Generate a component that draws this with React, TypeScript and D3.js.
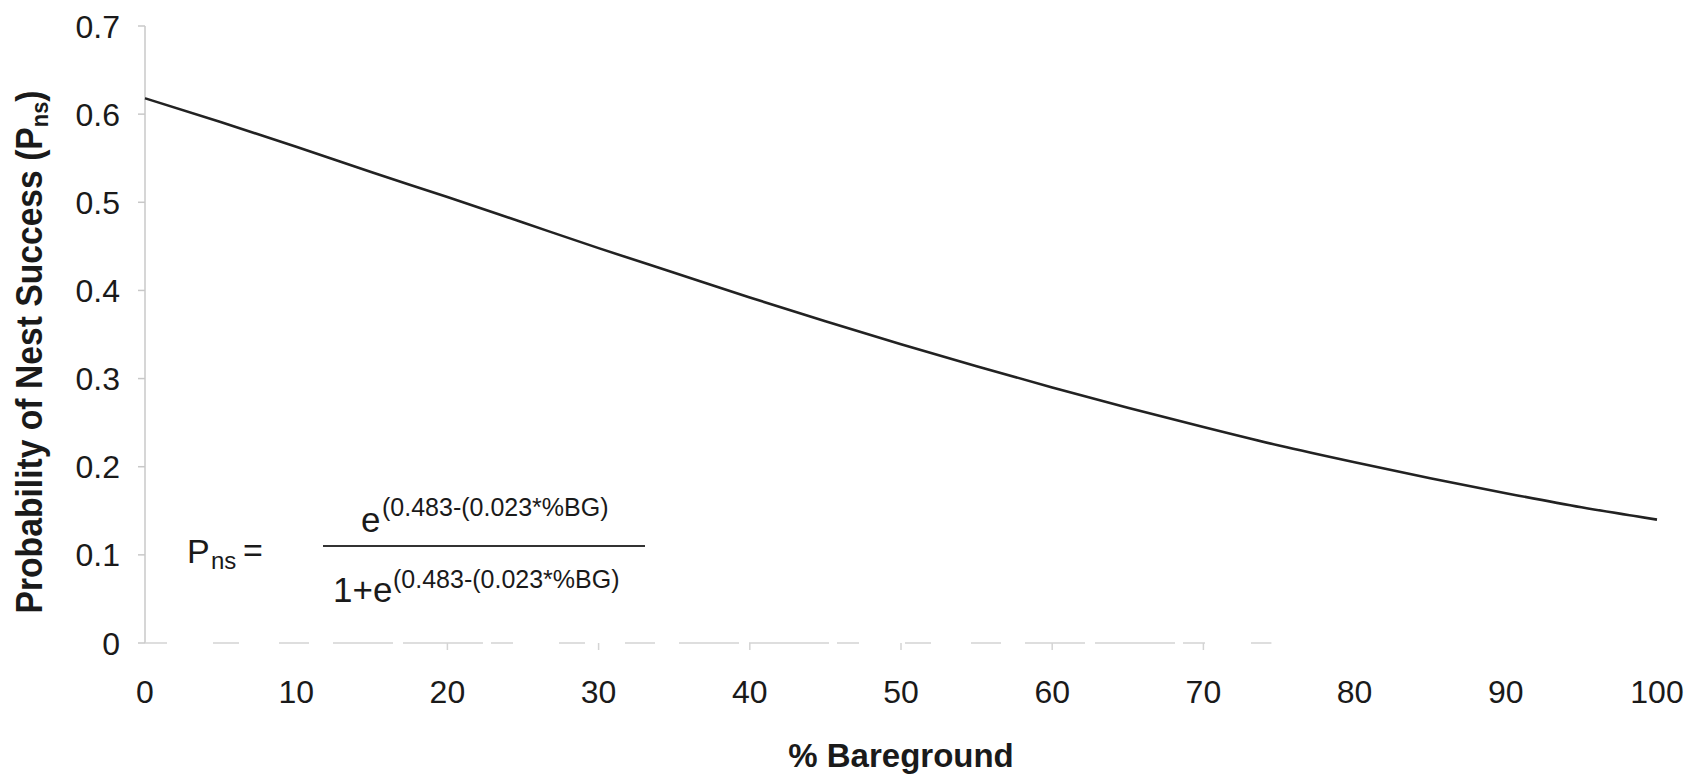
import React from "react";
import * as d3 from "d3";

const bareground = [0, 5, 10, 15, 20, 25, 30, 35, 40, 45, 50, 55, 60, 65, 70, 75, 80, 85, 90, 95, 100];
const pNestSuccess = [0.618, 0.591, 0.563, 0.534, 0.506, 0.477, 0.448, 0.420, 0.392, 0.365, 0.339, 0.314, 0.290, 0.267, 0.245, 0.224, 0.205, 0.187, 0.170, 0.154, 0.140];
const xTicks = [0, 10, 20, 30, 40, 50, 60, 70, 80, 90, 100];
const yTicks = [0, 0.1, 0.2, 0.3, 0.4, 0.5, 0.6, 0.7];
const yTickLabels = ["0", "0.1", "0.2", "0.3", "0.4", "0.5", "0.6", "0.7"];
const xTitle = "% Bareground";
const yTitle = "Probability of Nest Success (P";
const yTitleSub = "ns";
const formulaExp = "(0.483-(0.023*%BG)";

const W = 1700;
const H = 780;
const FONT = "'Liberation Sans', Arial, Helvetica, sans-serif";
const INK = "#1a1a1a";

export default function App() {
  const x = d3.scaleLinear().domain([0, 100]).range([145, 1657]);
  const y = d3.scaleLinear().domain([0, 0.7]).range([643, 26]);
  const pts = bareground.map((b, i) => [b, pNestSuccess[i]] as [number, number]);
  const line = d3
    .line<[number, number]>()
    .x((d) => x(d[0]))
    .y((d) => y(d[1]))
    .curve(d3.curveMonotoneX);

  return (
    <div style={{ position: "absolute", left: 0, top: 0 }}>
      <svg width={W} height={H} style={{ display: "block", background: "#fff" }} fontFamily={FONT}>
        {/* y axis */}
        <line x1={x(0)} x2={x(0)} y1={y(0.7)} y2={y(0)} stroke="#c8c8c8" strokeWidth={1.5} />
        {yTicks.map((t) => (
          <line key={"yt" + t} x1={x(0) - 7} x2={x(0)} y1={y(t)} y2={y(t)} stroke="#c8c8c8" strokeWidth={1.5} />
        ))}
        {yTicks.map((t, i) => (
          <text key={"yl" + t} x={120} y={y(t)} dy="0.36em" textAnchor="end" fontSize={32} fill={INK}>
            {yTickLabels[i]}
          </text>
        ))}
        {/* x axis (faint, partially visible) */}
        <line
          x1={x(0)}
          x2={x(74.5)}
          y1={y(0)}
          y2={y(0)}
          stroke="#d4d4d4"
          strokeWidth={1.5}
          strokeDasharray="22 46 26 40 30 24 60 10 80 8"
        />
        {xTicks.filter((t) => t >= 20 && t <= 70).map((t) => (
          <line key={"xt" + t} x1={x(t)} x2={x(t)} y1={y(0)} y2={y(0) + 7} stroke="#d4d4d4" strokeWidth={1.5} />
        ))}
        {xTicks.map((t) => (
          <text key={"xl" + t} x={x(t)} y={703} textAnchor="middle" fontSize={32} fill={INK}>
            {t}
          </text>
        ))}
        {/* curve */}
        <path d={line(pts) || ""} fill="none" stroke="#222" strokeWidth={2.6} />
        {/* titles */}
        <text x={(x(0) + x(100)) / 2} y={767} textAnchor="middle" fontSize={33} fontWeight="bold" fill={INK}>
          {xTitle}
        </text>
        <text
          transform={`translate(42, 352) rotate(-90) scale(0.91, 1)`}
          textAnchor="middle"
          fontSize={37}
          fontWeight="bold"
          fill={INK}
        >
          {yTitle}
          <tspan fontSize={24} dy={6}>{yTitleSub}</tspan>
          <tspan dy={-6}>)</tspan>
        </text>
        {/* formula */}
        <text x={187} y={563} fontSize={34} fill={INK}>P</text>
        <text x={211} y={569} fontSize={24} fill={INK}>ns</text>
        <text x={243} y={562} fontSize={34} fill={INK}>=</text>
        <line x1={323} x2={645} y1={546} y2={546} stroke="#333" strokeWidth={2} />
        <text x={361} y={532} fontSize={35} fill={INK}>e</text>
        <text x={382} y={516} fontSize={25} fill={INK}>{formulaExp}</text>
        <text x={333} y={602} fontSize={35} fill={INK}>1+e</text>
        <text x={393} y={588} fontSize={25} fill={INK}>{formulaExp}</text>
      </svg>
    </div>
  );
}
